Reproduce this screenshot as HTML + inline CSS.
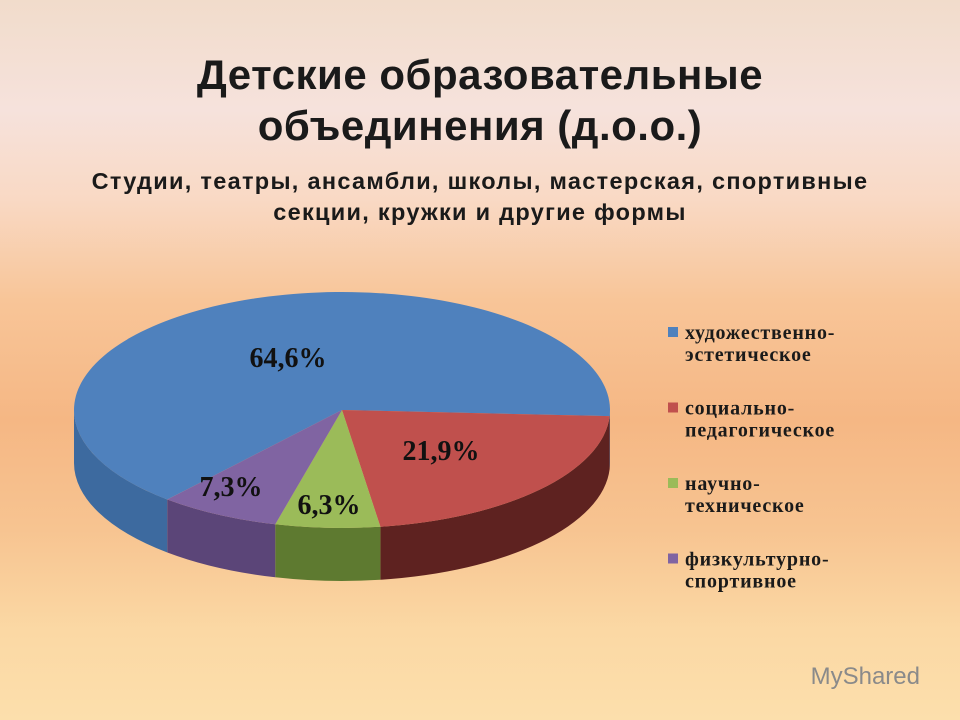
<!DOCTYPE html>
<html><head><meta charset="utf-8"><style>
html,body{margin:0;padding:0}
body{width:960px;height:720px;overflow:hidden;position:relative;font-family:"Liberation Sans","Noto Sans CJK SC",sans-serif;
background:linear-gradient(180deg,#f1dccb 0px,#f6e2dc 110px,#f9d9c4 200px,#f8c598 300px,#f5b784 420px,#f7c491 530px,#fbd8a4 630px,#fcdfac 720px);}
.t{position:absolute;left:0;width:960px;text-align:center;font-weight:bold;color:#1a1a1a;white-space:nowrap}
</style></head><body>
<div class="t" style="top:49px;font-size:42px;line-height:51px;letter-spacing:0.5px">Детские образовательные<br>объединения (д.о.о.)</div>
<div class="t" style="top:166px;font-size:23.5px;line-height:31px;letter-spacing:1.3px">Студии, театры, ансамбли, школы, мастерская, спортивные<br>секции, кружки и другие формы</div>
<svg id="chart" width="960" height="720" style="position:absolute;left:0;top:0" xmlns="http://www.w3.org/2000/svg">
<g id="pie"></g>
<g id="legend"></g>
<text x="920" y="684" text-anchor="end" font-size="24" fill="#8a8a8a" font-family="Liberation Sans, sans-serif">MyShared</text>
</svg>
<script>
const categories=["художественно-эстетическое","социально-педагогическое","научно-техническое","физкультурно-спортивное"];
const legendLines=[["художественно-","эстетическое"],["социально-","педагогическое"],["научно-","техническое"],["физкультурно-","спортивное"]];
const values=[64.6,21.9,6.3,7.3];
const labels=["64,6%","21,9%","6,3%","7,3%"];
const colors=["#4f81bd","#c0504d","#9bbb59","#8064a2"];
const sideColors=["#3d6a9f","#5e2220","#5e7a30","#5b4578"];
const labelPos=[[288,367],[441,460],[329,514],[231,496]];
const NS="http://www.w3.org/2000/svg";
const cx=342,cy=410,rx=268,ry=118,depth=53;
const total=values.reduce((a,b)=>a+b,0);
const endBlue=3;
function pt(a,dy){const r=a*Math.PI/180;return [cx+rx*Math.cos(r),cy+ry*Math.sin(r)+(dy||0)];}
const g=document.getElementById('pie');
let start=endBlue-values[0]/total*360;
const angles=values.map(v=>{const s=start;start+=v/total*360;return [s,start];});
angles.forEach(([s,e],i)=>{
  let segs=[];
  for(let k=-1;k<=1;k++){const a=Math.max(s,k*360),b=Math.min(e,k*360+180);if(b>a)segs.push([a,b]);}
  segs.forEach(([a,b])=>{
    const p1=pt(a),p2=pt(b),p3=pt(b,depth),p4=pt(a,depth);
    const large=(b-a)>180?1:0;
    const d=`M${p1} A${rx},${ry} 0 ${large} 1 ${p2} L${p3} A${rx},${ry} 0 ${large} 0 ${p4} Z`;
    const p=document.createElementNS(NS,'path');p.setAttribute('d',d);p.setAttribute('fill',sideColors[i]);
    
    
    g.appendChild(p);
  });
});
angles.forEach(([s,e],i)=>{
  const p1=pt(s),p2=pt(e);const large=(e-s)>180?1:0;
  const p=document.createElementNS(NS,'path');
  p.setAttribute('d',`M${cx},${cy} L${p1} A${rx},${ry} 0 ${large} 1 ${p2} Z`);
  p.setAttribute('fill',colors[i]);
  
  
  g.appendChild(p);
  const t=document.createElementNS(NS,'text');
  t.setAttribute('x',labelPos[i][0]);t.setAttribute('y',labelPos[i][1]);
  t.setAttribute('text-anchor','middle');t.setAttribute('font-size','28');t.setAttribute('font-weight','bold');
  t.setAttribute('font-family','Liberation Serif, serif');t.setAttribute('fill','#111');
  t.textContent=labels[i];
  
  
  g.appendChild(t);
});
const lg=document.getElementById('legend');
categories.forEach((c,i)=>{
  const y0=339+i*75.5;
  const r=document.createElementNS(NS,'rect');
  r.setAttribute('x',668);r.setAttribute('y',y0-12);r.setAttribute('width',10);r.setAttribute('height',10);r.setAttribute('fill',colors[i]);
  
  
  lg.appendChild(r);
  legendLines[i].forEach((ln,j)=>{
    const t=document.createElementNS(NS,'text');
    t.setAttribute('x',685);t.setAttribute('y',y0+j*22);t.setAttribute('font-size','20');t.setAttribute('font-weight','bold');
    t.setAttribute('letter-spacing','0.8');
    t.setAttribute('font-family','Liberation Serif, serif');t.setAttribute('fill','#1a1a1a');
    t.textContent=ln;
    
    
    lg.appendChild(t);
  });
});
</script>
</body></html>
